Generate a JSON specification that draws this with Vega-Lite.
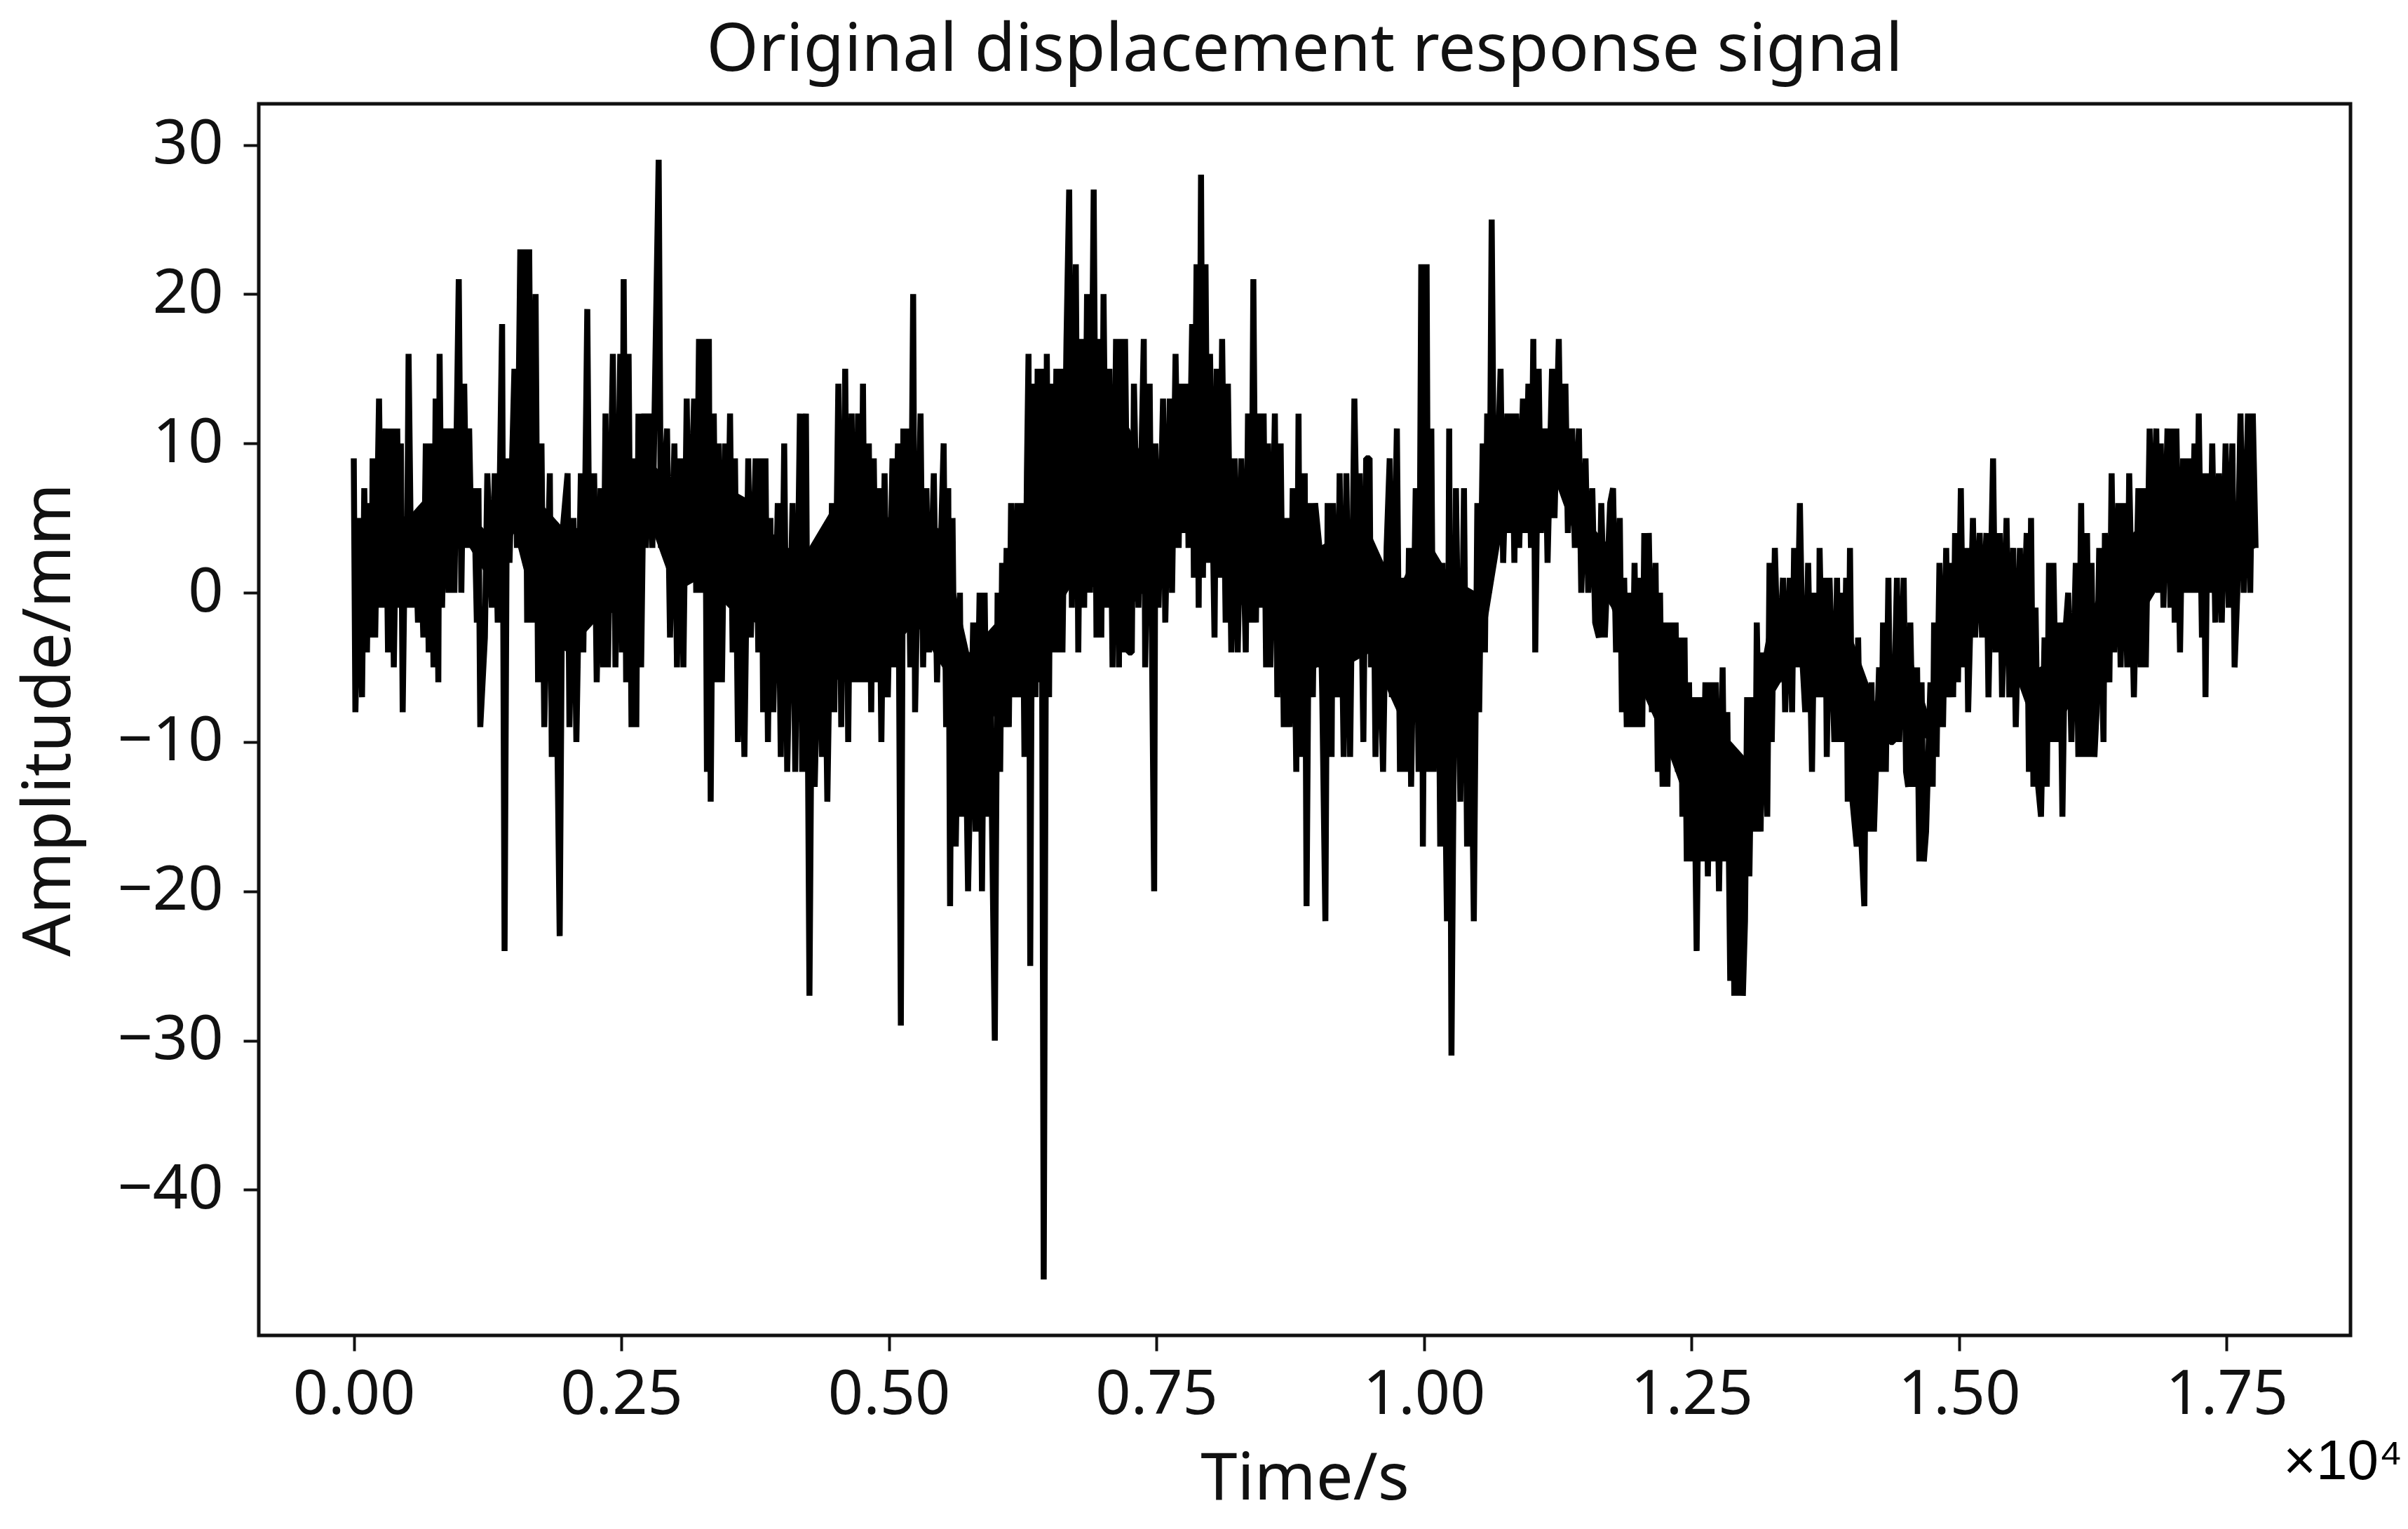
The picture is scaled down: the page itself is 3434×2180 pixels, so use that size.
{
  "$schema": "https://vega.github.io/schema/vega-lite/v6.json",
  "autosize": {"type": "none"},
  "padding": {"left": 369, "top": 148, "right": 82, "bottom": 276},
  "width": 2983,
  "height": 1756,
  "background": "white",
  "title": {
    "text": "Original displacement response signal",
    "font": "Noto Sans",
    "fontSize": 95,
    "fontWeight": "normal",
    "color": "#111111",
    "anchor": "middle",
    "offset": 27
  },
  "config": {"view": {"stroke": "#111111", "strokeWidth": 5}},
  "layer": [
    {
      "data": {"values": [
{"t":0,"a":9},{"t":15,"a":-8},{"t":52,"a":5},{"t":77,"a":-7},{"t":98,"a":7},{"t":123,"a":-4},{"t":144,"a":6},{"t":165,"a":-3},{"t":176,"a":9},{"t":200,"a":-3},{"t":236,"a":13},{"t":260,"a":-1},{"t":296,"a":11},{"t":320,"a":-4},{"t":351,"a":11},{"t":374,"a":-5},{"t":406,"a":11},{"t":425,"a":-1},{"t":440,"a":10},{"t":457,"a":-8},{"t":480,"a":5},{"t":495,"a":-1},{"t":512,"a":16},{"t":540,"a":-1},{"t":572,"a":5},{"t":600,"a":-2},{"t":618,"a":5},{"t":650,"a":-3},{"t":673,"a":10},{"t":700,"a":-4},{"t":719,"a":10},{"t":745,"a":-5},{"t":765,"a":13},{"t":790,"a":-6},{"t":802,"a":16},{"t":825,"a":-1},{"t":857,"a":11},{"t":885,"a":0},{"t":912,"a":11},{"t":940,"a":0},{"t":981,"a":21},{"t":1005,"a":0},{"t":1032,"a":14},{"t":1055,"a":3},{"t":1078,"a":11},{"t":1100,"a":3},{"t":1124,"a":7},{"t":1150,"a":-2},{"t":1165,"a":7},{"t":1182,"a":-9},{"t":1225,"a":-3},{"t":1248,"a":8},{"t":1290,"a":-1},{"t":1317,"a":8},{"t":1345,"a":-2},{"t":1386,"a":18},{"t":1409,"a":-24},{"t":1432,"a":9},{"t":1455,"a":2},{"t":1501,"a":15},{"t":1525,"a":3},{"t":1556,"a":23},{"t":1578,"a":4},{"t":1600,"a":23},{"t":1620,"a":-2},{"t":1639,"a":23},{"t":1665,"a":-2},{"t":1699,"a":20},{"t":1722,"a":-6},{"t":1754,"a":10},{"t":1780,"a":-9},{"t":1832,"a":8},{"t":1850,"a":-11},{"t":1880,"a":4},{"t":1924,"a":-23},{"t":1950,"a":4},{"t":1998,"a":8},{"t":2015,"a":-9},{"t":2053,"a":5},{"t":2080,"a":-10},{"t":2122,"a":8},{"t":2145,"a":-4},{"t":2182,"a":19},{"t":2205,"a":-2},{"t":2246,"a":8},{"t":2270,"a":-6},{"t":2306,"a":7},{"t":2330,"a":-5},{"t":2352,"a":12},{"t":2375,"a":-5},{"t":2421,"a":16},{"t":2445,"a":-5},{"t":2490,"a":16},{"t":2505,"a":-4},{"t":2522,"a":21},{"t":2545,"a":-6},{"t":2568,"a":16},{"t":2595,"a":-9},{"t":2614,"a":4},{"t":2640,"a":-9},{"t":2660,"a":12},{"t":2685,"a":-5},{"t":2715,"a":12},{"t":2730,"a":3},{"t":2766,"a":12},{"t":2790,"a":3},{"t":2849,"a":29},{"t":2870,"a":3},{"t":2927,"a":11},{"t":2955,"a":-3},{"t":2996,"a":10},{"t":3020,"a":-5},{"t":3051,"a":9},{"t":3080,"a":-5},{"t":3111,"a":13},{"t":3135,"a":1},{"t":3180,"a":13},{"t":3200,"a":0},{"t":3226,"a":17},{"t":3250,"a":0},{"t":3280,"a":17},{"t":3300,"a":-12},{"t":3318,"a":17},{"t":3335,"a":-14},{"t":3364,"a":12},{"t":3390,"a":-6},{"t":3410,"a":10},{"t":3440,"a":-6},{"t":3470,"a":10},{"t":3495,"a":2},{"t":3516,"a":12},{"t":3540,"a":-4},{"t":3562,"a":9},{"t":3590,"a":-10},{"t":3617,"a":4},{"t":3650,"a":-11},{"t":3686,"a":9},{"t":3710,"a":-3},{"t":3755,"a":9},{"t":3780,"a":-4},{"t":3810,"a":9},{"t":3825,"a":-8},{"t":3847,"a":9},{"t":3870,"a":-10},{"t":3893,"a":5},{"t":3920,"a":-8},{"t":3962,"a":6},{"t":3990,"a":-11},{"t":4022,"a":10},{"t":4050,"a":-12},{"t":4100,"a":6},{"t":4125,"a":-12},{"t":4169,"a":12},{"t":4190,"a":-12},{"t":4225,"a":12},{"t":4258,"a":-27},{"t":4285,"a":1},{"t":4307,"a":-13},{"t":4350,"a":1},{"t":4375,"a":-11},{"t":4399,"a":1},{"t":4425,"a":-14},{"t":4468,"a":6},{"t":4490,"a":-8},{"t":4528,"a":14},{"t":4555,"a":-9},{"t":4592,"a":15},{"t":4620,"a":-10},{"t":4652,"a":12},{"t":4680,"a":-6},{"t":4712,"a":12},{"t":4735,"a":-6},{"t":4758,"a":14},{"t":4780,"a":-6},{"t":4813,"a":10},{"t":4835,"a":-8},{"t":4859,"a":9},{"t":4885,"a":-6},{"t":4905,"a":7},{"t":4930,"a":-10},{"t":4960,"a":8},{"t":4990,"a":-7},{"t":5034,"a":9},{"t":5050,"a":-5},{"t":5085,"a":10},{"t":5112,"a":-29},{"t":5135,"a":11},{"t":5150,"a":0},{"t":5172,"a":11},{"t":5200,"a":-5},{"t":5227,"a":20},{"t":5245,"a":-8},{"t":5296,"a":12},{"t":5320,"a":-5},{"t":5351,"a":7},{"t":5375,"a":-4},{"t":5420,"a":8},{"t":5450,"a":-6},{"t":5512,"a":10},{"t":5535,"a":-9},{"t":5555,"a":7},{"t":5572,"a":-21},{"t":5595,"a":5},{"t":5625,"a":-17},{"t":5664,"a":0},{"t":5680,"a":-15},{"t":5710,"a":-5},{"t":5740,"a":-20},{"t":5788,"a":-2},{"t":5810,"a":-16},{"t":5848,"a":0},{"t":5870,"a":-20},{"t":5895,"a":0},{"t":5920,"a":-15},{"t":5945,"a":-5},{"t":5990,"a":-30},{"t":6016,"a":0},{"t":6040,"a":-12},{"t":6058,"a":2},{"t":6075,"a":-9},{"t":6100,"a":3},{"t":6121,"a":-9},{"t":6142,"a":6},{"t":6171,"a":-7},{"t":6200,"a":6},{"t":6225,"a":-7},{"t":6246,"a":6},{"t":6267,"a":-11},{"t":6290,"a":8},{"t":6305,"a":16},{"t":6321,"a":-25},{"t":6345,"a":14},{"t":6371,"a":-7},{"t":6390,"a":15},{"t":6405,"a":-6},{"t":6425,"a":15},{"t":6447,"a":-46},{"t":6476,"a":16},{"t":6497,"a":-7},{"t":6515,"a":14},{"t":6538,"a":-4},{"t":6565,"a":15},{"t":6590,"a":-4},{"t":6601,"a":15},{"t":6622,"a":-4},{"t":6660,"a":17},{"t":6685,"a":27},{"t":6710,"a":-1},{"t":6747,"a":22},{"t":6770,"a":-4},{"t":6797,"a":17},{"t":6825,"a":-1},{"t":6852,"a":20},{"t":6880,"a":0},{"t":6914,"a":27},{"t":6940,"a":-3},{"t":6965,"a":17},{"t":6985,"a":-3},{"t":7006,"a":20},{"t":7035,"a":-1},{"t":7061,"a":15},{"t":7090,"a":-5},{"t":7123,"a":17},{"t":7150,"a":-5},{"t":7165,"a":17},{"t":7186,"a":-4},{"t":7207,"a":17},{"t":7240,"a":-4},{"t":7270,"a":-4},{"t":7290,"a":14},{"t":7332,"a":-1},{"t":7382,"a":17},{"t":7395,"a":-5},{"t":7437,"a":14},{"t":7479,"a":-20},{"t":7491,"a":10},{"t":7520,"a":-1},{"t":7562,"a":13},{"t":7583,"a":-2},{"t":7625,"a":13},{"t":7646,"a":0},{"t":7679,"a":16},{"t":7708,"a":3},{"t":7729,"a":14},{"t":7750,"a":4},{"t":7784,"a":14},{"t":7800,"a":3},{"t":7834,"a":18},{"t":7850,"a":1},{"t":7875,"a":22},{"t":7895,"a":-1},{"t":7917,"a":28},{"t":7935,"a":1},{"t":7959,"a":22},{"t":7980,"a":2},{"t":8001,"a":16},{"t":8043,"a":-3},{"t":8063,"a":15},{"t":8093,"a":1},{"t":8114,"a":17},{"t":8147,"a":-2},{"t":8168,"a":14},{"t":8200,"a":-4},{"t":8231,"a":9},{"t":8260,"a":-4},{"t":8293,"a":9},{"t":8335,"a":-4},{"t":8356,"a":12},{"t":8385,"a":-2},{"t":8406,"a":21},{"t":8430,"a":-2},{"t":8452,"a":12},{"t":8481,"a":-1},{"t":8502,"a":12},{"t":8525,"a":-5},{"t":8544,"a":10},{"t":8565,"a":-5},{"t":8607,"a":12},{"t":8630,"a":-7},{"t":8661,"a":10},{"t":8690,"a":-9},{"t":8719,"a":5},{"t":8745,"a":-9},{"t":8774,"a":7},{"t":8807,"a":-12},{"t":8828,"a":12},{"t":8845,"a":-11},{"t":8886,"a":8},{"t":8903,"a":-21},{"t":8930,"a":6},{"t":8962,"a":-7},{"t":8983,"a":6},{"t":9024,"a":3},{"t":9050,"a":-7},{"t":9079,"a":-22},{"t":9100,"a":6},{"t":9137,"a":-11},{"t":9150,"a":6},{"t":9192,"a":-7},{"t":9212,"a":8},{"t":9250,"a":-11},{"t":9275,"a":8},{"t":9310,"a":-11},{"t":9350,"a":13},{"t":9380,"a":0},{"t":9400,"a":8},{"t":9434,"a":-10},{"t":9460,"a":9},{"t":9492,"a":9},{"t":9505,"a":-5},{"t":9530,"a":2},{"t":9547,"a":-11},{"t":9575,"a":0},{"t":9618,"a":-12},{"t":9651,"a":3},{"t":9680,"a":9},{"t":9700,"a":-7},{"t":9747,"a":11},{"t":9776,"a":-12},{"t":9806,"a":1},{"t":9830,"a":-12},{"t":9860,"a":3},{"t":9880,"a":-13},{"t":9923,"a":7},{"t":9950,"a":-12},{"t":9975,"a":22},{"t":9990,"a":-17},{"t":10025,"a":22},{"t":10045,"a":-12},{"t":10069,"a":11},{"t":10090,"a":-12},{"t":10132,"a":2},{"t":10152,"a":-17},{"t":10173,"a":2},{"t":10215,"a":-22},{"t":10236,"a":11},{"t":10257,"a":-31},{"t":10275,"a":-14},{"t":10299,"a":7},{"t":10340,"a":-14},{"t":10374,"a":7},{"t":10403,"a":-17},{"t":10432,"a":-1},{"t":10466,"a":-22},{"t":10499,"a":6},{"t":10516,"a":-8},{"t":10549,"a":10},{"t":10570,"a":-4},{"t":10591,"a":12},{"t":10610,"a":0},{"t":10633,"a":25},{"t":10655,"a":5},{"t":10675,"a":5},{"t":10716,"a":15},{"t":10740,"a":2},{"t":10779,"a":12},{"t":10800,"a":4},{"t":10825,"a":12},{"t":10845,"a":2},{"t":10863,"a":12},{"t":10890,"a":3},{"t":10925,"a":13},{"t":10946,"a":4},{"t":10976,"a":14},{"t":11000,"a":3},{"t":11022,"a":17},{"t":11040,"a":-4},{"t":11072,"a":15},{"t":11093,"a":4},{"t":11134,"a":11},{"t":11155,"a":2},{"t":11197,"a":15},{"t":11220,"a":5},{"t":11260,"a":17},{"t":11280,"a":7},{"t":11322,"a":14},{"t":11345,"a":4},{"t":11385,"a":11},{"t":11410,"a":3},{"t":11448,"a":11},{"t":11470,"a":0},{"t":11510,"a":9},{"t":11535,"a":0},{"t":11573,"a":7},{"t":11600,"a":-2},{"t":11635,"a":-3},{"t":11657,"a":6},{"t":11690,"a":-3},{"t":11740,"a":6},{"t":11767,"a":7},{"t":11795,"a":-4},{"t":11830,"a":5},{"t":11850,"a":-8},{"t":11871,"a":1},{"t":11895,"a":-9},{"t":11926,"a":0},{"t":11945,"a":-9},{"t":11968,"a":2},{"t":11990,"a":-9},{"t":12018,"a":1},{"t":12040,"a":-9},{"t":12059,"a":4},{"t":12080,"a":-6},{"t":12101,"a":4},{"t":12130,"a":-8},{"t":12164,"a":2},{"t":12185,"a":-12},{"t":12206,"a":0},{"t":12230,"a":-13},{"t":12247,"a":-2},{"t":12275,"a":-13},{"t":12300,"a":-2},{"t":12325,"a":-11},{"t":12352,"a":-2},{"t":12373,"a":-12},{"t":12400,"a":-3},{"t":12415,"a":-15},{"t":12435,"a":-3},{"t":12456,"a":-18},{"t":12477,"a":-6},{"t":12498,"a":-18},{"t":12520,"a":-7},{"t":12548,"a":-24},{"t":12575,"a":-7},{"t":12603,"a":-18},{"t":12630,"a":-6},{"t":12653,"a":-19},{"t":12680,"a":-6},{"t":12707,"a":-18},{"t":12728,"a":-6},{"t":12757,"a":-20},{"t":12791,"a":-5},{"t":12811,"a":-18},{"t":12835,"a":-8},{"t":12862,"a":-26},{"t":12880,"a":-12},{"t":12900,"a":-27},{"t":12925,"a":-13},{"t":12945,"a":-27},{"t":12960,"a":-12},{"t":12980,"a":-27},{"t":13000,"a":-22},{"t":13020,"a":-7},{"t":13041,"a":-19},{"t":13065,"a":-7},{"t":13096,"a":-16},{"t":13110,"a":-2},{"t":13146,"a":-16},{"t":13167,"a":-4},{"t":13208,"a":-15},{"t":13229,"a":2},{"t":13250,"a":-10},{"t":13279,"a":3},{"t":13313,"a":-6},{"t":13355,"a":1},{"t":13375,"a":-8},{"t":13417,"a":1},{"t":13440,"a":-8},{"t":13459,"a":3},{"t":13485,"a":-5},{"t":13513,"a":6},{"t":13540,"a":-5},{"t":13563,"a":-8},{"t":13590,"a":2},{"t":13626,"a":-12},{"t":13650,"a":0},{"t":13689,"a":-7},{"t":13697,"a":3},{"t":13725,"a":-7},{"t":13752,"a":1},{"t":13764,"a":-11},{"t":13790,"a":1},{"t":13835,"a":-10},{"t":13860,"a":1},{"t":13880,"a":-10},{"t":13898,"a":0},{"t":13919,"a":-10},{"t":13945,"a":1},{"t":13960,"a":-14},{"t":13981,"a":3},{"t":14005,"a":-14},{"t":14044,"a":-17},{"t":14057,"a":-3},{"t":14090,"a":-17},{"t":14115,"a":-21},{"t":14128,"a":-9},{"t":14155,"a":-16},{"t":14182,"a":-6},{"t":14205,"a":-16},{"t":14253,"a":-5},{"t":14274,"a":-12},{"t":14290,"a":-2},{"t":14316,"a":-12},{"t":14340,"a":1},{"t":14357,"a":-10},{"t":14385,"a":-10},{"t":14420,"a":1},{"t":14441,"a":-10},{"t":14483,"a":1},{"t":14505,"a":-12},{"t":14525,"a":-13},{"t":14545,"a":-2},{"t":14575,"a":-13},{"t":14608,"a":-5},{"t":14629,"a":-18},{"t":14650,"a":-6},{"t":14671,"a":-18},{"t":14692,"a":-16},{"t":14733,"a":-6},{"t":14754,"a":-13},{"t":14767,"a":-2},{"t":14790,"a":-11},{"t":14817,"a":2},{"t":14850,"a":-9},{"t":14880,"a":3},{"t":14900,"a":-7},{"t":14921,"a":2},{"t":14945,"a":-7},{"t":14963,"a":4},{"t":14990,"a":-6},{"t":15017,"a":7},{"t":15040,"a":-5},{"t":15068,"a":3},{"t":15085,"a":-8},{"t":15130,"a":5},{"t":15150,"a":-3},{"t":15193,"a":4},{"t":15215,"a":-3},{"t":15256,"a":4},{"t":15275,"a":-7},{"t":15318,"a":9},{"t":15340,"a":-4},{"t":15381,"a":4},{"t":15402,"a":-7},{"t":15444,"a":5},{"t":15470,"a":-7},{"t":15506,"a":3},{"t":15530,"a":-9},{"t":15569,"a":3},{"t":15590,"a":-6},{"t":15632,"a":4},{"t":15653,"a":-12},{"t":15673,"a":5},{"t":15695,"a":-13},{"t":15715,"a":-1},{"t":15740,"a":-13},{"t":15766,"a":-15},{"t":15799,"a":-3},{"t":15820,"a":-13},{"t":15841,"a":2},{"t":15860,"a":-10},{"t":15882,"a":2},{"t":15910,"a":-10},{"t":15945,"a":-2},{"t":15966,"a":-15},{"t":15990,"a":-3},{"t":16020,"a":0},{"t":16050,"a":-10},{"t":16091,"a":2},{"t":16115,"a":-11},{"t":16141,"a":6},{"t":16165,"a":-11},{"t":16196,"a":4},{"t":16220,"a":-11},{"t":16238,"a":2},{"t":16265,"a":-11},{"t":16285,"a":-8},{"t":16310,"a":3},{"t":16350,"a":-10},{"t":16363,"a":4},{"t":16405,"a":-6},{"t":16426,"a":8},{"t":16450,"a":-4},{"t":16488,"a":6},{"t":16510,"a":-5},{"t":16540,"a":6},{"t":16572,"a":-5},{"t":16590,"a":8},{"t":16634,"a":-7},{"t":16676,"a":7},{"t":16697,"a":-5},{"t":16718,"a":7},{"t":16745,"a":-5},{"t":16781,"a":11},{"t":16801,"a":1},{"t":16843,"a":11},{"t":16864,"a":0},{"t":16885,"a":10},{"t":16910,"a":-1},{"t":16948,"a":11},{"t":16975,"a":-1},{"t":17000,"a":11},{"t":17015,"a":-2},{"t":17031,"a":11},{"t":17065,"a":-4},{"t":17094,"a":9},{"t":17120,"a":0},{"t":17150,"a":9},{"t":17170,"a":0},{"t":17200,"a":10},{"t":17220,"a":0},{"t":17240,"a":12},{"t":17270,"a":-3},{"t":17285,"a":8},{"t":17303,"a":-7},{"t":17325,"a":8},{"t":17345,"a":0},{"t":17366,"a":10},{"t":17395,"a":-2},{"t":17428,"a":8},{"t":17455,"a":-2},{"t":17491,"a":10},{"t":17520,"a":-1},{"t":17554,"a":10},{"t":17575,"a":-5},{"t":17600,"a":0},{"t":17630,"a":12},{"t":17660,"a":0},{"t":17700,"a":12},{"t":17721,"a":0},{"t":17745,"a":12},{"t":17771,"a":3}
      ]},
      "mark": {"type": "line", "color": "black", "strokeWidth": 8.5, "strokeJoin": "bevel"},
      "encoding": {
        "x": {
          "field": "t",
          "type": "quantitative",
          "scale": {"domain": [-888, 18658], "nice": false, "zero": false},
          "axis": {
            "title": "Time/s",
            "values": [0, 2500, 5000, 7500, 10000, 12500, 15000, 17500],
            "labelExpr": "format(datum.value / 10000, '.2f')",
            "grid": false,
            "domain": false,
            "tickColor": "#111111",
            "tickSize": 22,
            "tickWidth": 4,
            "labelFont": "Noto Sans",
            "labelFontSize": 88,
            "labelColor": "#111111",
            "labelPadding": 19,
            "titleFont": "Noto Sans",
            "titleFontSize": 94,
            "titleFontWeight": "normal",
            "titleColor": "#111111",
            "titlePadding": 30
          }
        },
        "y": {
          "field": "a",
          "type": "quantitative",
          "scale": {"domain": [-49.75, 32.75], "nice": false, "zero": false},
          "axis": {
            "title": "Amplitude/mm",
            "values": [-40, -30, -20, -10, 0, 10, 20, 30],
            "grid": false,
            "domain": false,
            "tickColor": "#111111",
            "tickSize": 22,
            "tickWidth": 4,
            "labelFont": "Noto Sans",
            "labelFontSize": 88,
            "labelColor": "#111111",
            "labelPadding": 29,
            "titleFont": "Noto Sans",
            "titleFontSize": 95,
            "titleFontWeight": "normal",
            "titleColor": "#111111",
            "titlePadding": 50
          }
        }
      }
    },
    {
      "data": {"values": [
{"t":0,"hi":3,"lo":-1},{"t":250,"hi":6,"lo":0},{"t":500,"hi":5,"lo":1},{"t":750,"hi":7,"lo":2},{"t":1000,"hi":6,"lo":4},{"t":1250,"hi":4,"lo":1},{"t":1500,"hi":6,"lo":4},{"t":1750,"hi":6,"lo":-3},{"t":2000,"hi":4,"lo":-4},{"t":2250,"hi":5,"lo":-2},{"t":2500,"hi":9,"lo":-1},{"t":2750,"hi":9,"lo":5},{"t":3000,"hi":7,"lo":0},{"t":3250,"hi":10,"lo":1},{"t":3500,"hi":7,"lo":-1},{"t":3750,"hi":6,"lo":-2},{"t":4000,"hi":3,"lo":-7},{"t":4250,"hi":3,"lo":-8},{"t":4500,"hi":6,"lo":-6},{"t":4750,"hi":7,"lo":-4},{"t":5000,"hi":5,"lo":-4},{"t":5250,"hi":6,"lo":-2},{"t":5500,"hi":4,"lo":-5},{"t":5750,"hi":-4,"lo":-12},{"t":6000,"hi":-2,"lo":-8},{"t":6250,"hi":4,"lo":-5},{"t":6500,"hi":11,"lo":-2},{"t":6750,"hi":13,"lo":1},{"t":7000,"hi":13,"lo":0},{"t":7250,"hi":11,"lo":-1},{"t":7500,"hi":7,"lo":1},{"t":7750,"hi":10,"lo":5},{"t":8000,"hi":12,"lo":3},{"t":8250,"hi":6,"lo":-1},{"t":8500,"hi":8,"lo":0},{"t":8750,"hi":4,"lo":-7},{"t":9000,"hi":3,"lo":-5},{"t":9250,"hi":4,"lo":-5},{"t":9500,"hi":4,"lo":-4},{"t":9750,"hi":0,"lo":-8},{"t":10000,"hi":4,"lo":-9},{"t":10250,"hi":1,"lo":-11},{"t":10500,"hi":0,"lo":-6},{"t":10750,"hi":9,"lo":5},{"t":11000,"hi":10,"lo":5},{"t":11250,"hi":11,"lo":7},{"t":11500,"hi":5,"lo":2},{"t":11750,"hi":3,"lo":-1},{"t":12000,"hi":-2,"lo":-6},{"t":12250,"hi":-5,"lo":-10},{"t":12500,"hi":-10,"lo":-15},{"t":12750,"hi":-9,"lo":-15},{"t":13000,"hi":-11,"lo":-19},{"t":13250,"hi":-1,"lo":-7},{"t":13500,"hi":-1,"lo":-4},{"t":13750,"hi":-2,"lo":-6},{"t":14000,"hi":-3,"lo":-11},{"t":14250,"hi":-8,"lo":-10},{"t":14500,"hi":-3,"lo":-9},{"t":14750,"hi":-9,"lo":-10},{"t":15000,"hi":1,"lo":-3},{"t":15250,"hi":1,"lo":-1},{"t":15500,"hi":0,"lo":-5},{"t":15750,"hi":-5,"lo":-10},{"t":16000,"hi":-4,"lo":-8},{"t":16250,"hi":-1,"lo":-5},{"t":16500,"hi":3,"lo":-2},{"t":16750,"hi":5,"lo":-1},{"t":17000,"hi":7,"lo":2},{"t":17250,"hi":6,"lo":2},{"t":17500,"hi":5,"lo":2},{"t":17770,"hi":6,"lo":3}
      ]},
      "mark": {"type": "area", "color": "black"},
      "encoding": {
        "x": {"field": "t", "type": "quantitative", "scale": {"domain": [-888, 18658], "nice": false, "zero": false}},
        "y": {"field": "lo", "type": "quantitative", "scale": {"domain": [-49.75, 32.75], "nice": false, "zero": false}},
        "y2": {"field": "hi"}
      }
    },
    {
      "data": {"values": [{"note": "x axis multiplier"}]},
      "mark": {"type": "text", "text": "×10⁴", "font": "Liberation Sans", "fontSize": 80, "align": "right", "baseline": "alphabetic", "color": "black"},
      "encoding": {
        "x": {"datum": 19145, "type": "quantitative", "scale": {"domain": [-888, 18658], "nice": false, "zero": false}},
        "y": {"datum": -59.4, "type": "quantitative", "scale": {"domain": [-49.75, 32.75], "nice": false, "zero": false}}
      }
    }
  ]
}
